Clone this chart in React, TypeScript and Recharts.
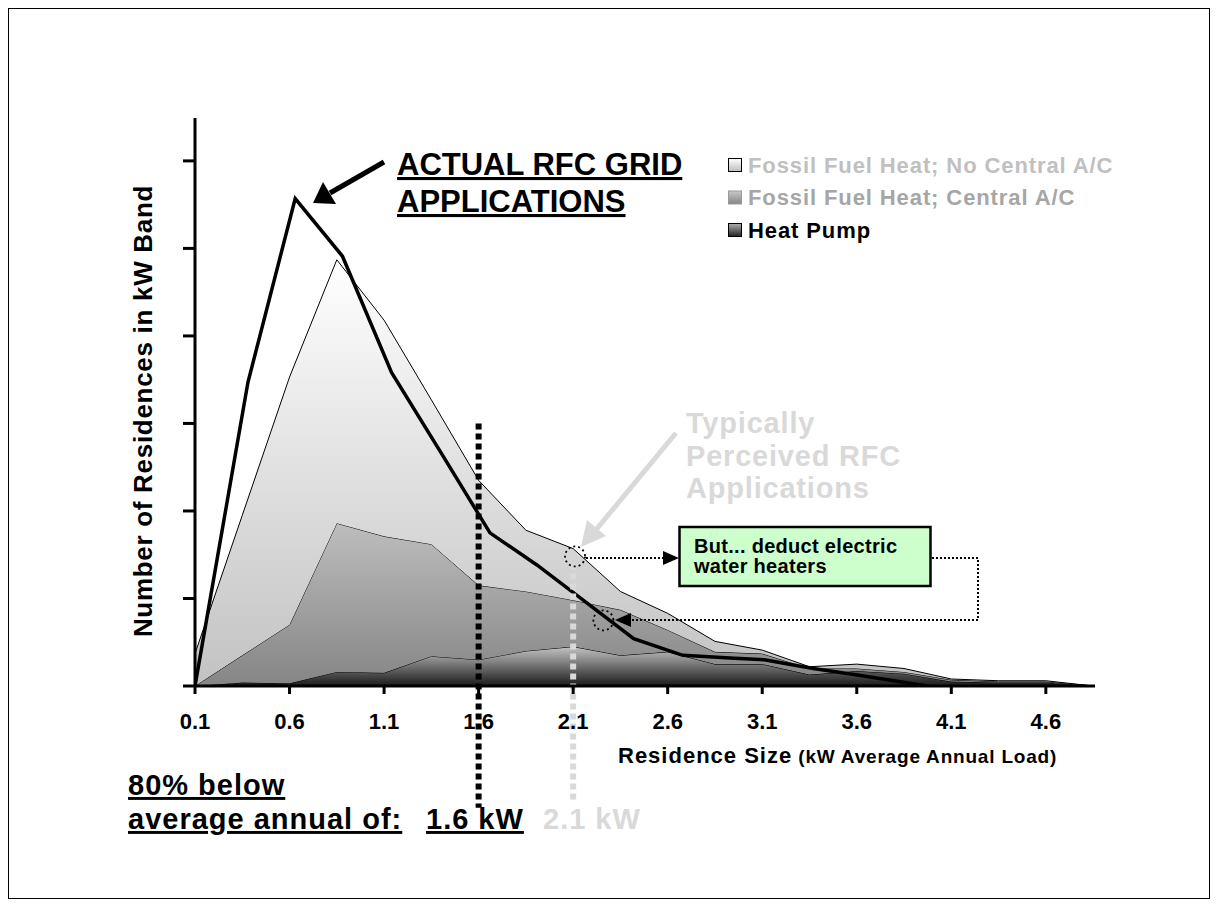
import { ComposedChart, Area, Line, XAxis, YAxis, ReferenceLine, ReferenceDot } from "recharts";

// kW band centres (x) and stacked residence counts per band
const bands = [0.1, 0.35, 0.6, 0.85, 1.1, 1.35, 1.6, 1.85, 2.1, 2.35, 2.6, 2.85, 3.1, 3.35, 3.6, 3.85, 4.1, 4.35, 4.6, 4.85];
const heatPump = [0, 0.04, 0.03, 0.16, 0.15, 0.34, 0.3, 0.4, 0.45, 0.35, 0.39, 0.25, 0.25, 0.13, 0.17, 0.14, 0.05, 0.04, 0.04, 0];
const fossilCentralAC = [0, 0.31, 0.67, 1.7, 1.56, 1.28, 0.85, 0.68, 0.53, 0.52, 0.25, 0.14, 0.12, 0.07, 0.03, 0.02, 0.02, 0.01, 0.01, 0];
const fossilNoCentralAC = [0.37, 1.6, 2.83, 3.01, 2.47, 1.65, 1.2, 0.7, 0.59, 0.21, 0.19, 0.12, 0.04, 0.02, 0.05, 0.04, 0.01, 0.01, 0.01, 0];

// actual RFC grid applications (own x positions)
const rfcX = [0.1, 0.38, 0.63, 0.88, 1.14, 1.4, 1.66, 1.91, 2.16, 2.42, 2.68, 2.93, 3.11, 3.37, 3.62, 3.97];
const rfcY = [0, 3.47, 5.57, 4.91, 3.58, 2.67, 1.75, 1.38, 0.97, 0.54, 0.35, 0.32, 0.3, 0.2, 0.12, 0];

const xTicks = [0.1, 0.6, 1.1, 1.6, 2.1, 2.6, 3.1, 3.6, 4.1, 4.6];
const yTicks = [0, 1, 2, 3, 4, 5, 6];

const legendItems = [
  { label: "Fossil Fuel Heat; No Central A/C", color: "#c0c0c0", fill: "url(#lgNoAC)", border: "#000" },
  { label: "Fossil Fuel Heat; Central A/C", color: "#a6a6a6", fill: "url(#lgAC)", border: "#9a9a9a" },
  { label: "Heat Pump", color: "#000", fill: "url(#lgHP)", border: "#000" },
];

const chartData = bands.map((x, i) => ({
  x,
  hp: heatPump[i],
  ac: fossilCentralAC[i],
  noac: fossilNoCentralAC[i],
}));
const rfcData = rfcX.map((x, i) => ({ x, rfc: rfcY[i] }));

const FONT = '"Liberation Sans", Arial, sans-serif';
const LIGHT = "#d9d9d9";

const XTick = ({ x, y, payload }: any) => (
  <text x={x} y={y + 33} textAnchor="middle" fontFamily={FONT} fontWeight="bold" fontSize={22} fill="#000">
    {payload.value.toFixed(1)}
  </text>
);

const NoTick = () => <g />;

export default function App() {
  return (
    <div style={{ position: "relative", width: 1202, height: 891 }}>
      <div style={{ position: "absolute", left: -8, top: -8 }}>
        <ComposedChart
          width={1218}
          height={907}
          data={chartData}
          margin={{ top: 118, right: 123, bottom: 161, left: 165 }}
        >
          <defs>
            <linearGradient id="gNoAC" x1="0" y1="0" x2="0" y2="1">
              <stop offset="0%" stopColor="#ffffff" />
              <stop offset="100%" stopColor="#c2c2c2" />
            </linearGradient>
            <linearGradient id="gAC" x1="0" y1="0" x2="0" y2="1">
              <stop offset="0%" stopColor="#bdbdbd" />
              <stop offset="100%" stopColor="#858585" />
            </linearGradient>
            <linearGradient id="gHP" x1="0" y1="0" x2="0" y2="1">
              <stop offset="0%" stopColor="#c4c4c4" />
              <stop offset="100%" stopColor="#1a1a1a" />
            </linearGradient>
          </defs>
          <XAxis
            type="number"
            dataKey="x"
            domain={[0.1, 4.86]}
            ticks={xTicks}
            interval={0}
            allowDataOverflow
            height={60}
            tickSize={8}
            tick={<XTick />}
            axisLine={{ stroke: "#000", strokeWidth: 3 }}
            tickLine={{ stroke: "#000", strokeWidth: 3 }}
          />
          <YAxis
            type="number"
            domain={[0, 6.49]}
            ticks={yTicks}
            allowDataOverflow
            width={30}
            tickSize={12}
            tick={NoTick}
            axisLine={{ stroke: "#000", strokeWidth: 3 }}
            tickLine={{ stroke: "#000", strokeWidth: 3 }}
          />
          <Area type="linear" dataKey="hp" stackId="s" stroke="#000" strokeWidth={1} fill="url(#gHP)" fillOpacity={1} isAnimationActive={false} />
          <Area type="linear" dataKey="ac" stackId="s" stroke="#000" strokeWidth={1} fill="url(#gAC)" fillOpacity={1} isAnimationActive={false} />
          <Area type="linear" dataKey="noac" stackId="s" stroke="#000" strokeWidth={1} fill="url(#gNoAC)" fillOpacity={1} isAnimationActive={false} />
          <Line data={rfcData} type="linear" dataKey="rfc" stroke="#000" strokeWidth={3.5} dot={false} isAnimationActive={false} />
          <ReferenceLine
            segment={[{ x: 1.6, y: 3.0 }, { x: 1.6, y: -1.39 }]}
            stroke="#000"
            strokeWidth={6}
            strokeDasharray="6 4"
            ifOverflow="visible"
          />
          <ReferenceLine
            segment={[{ x: 2.1, y: 1.4 }, { x: 2.1, y: -1.33 }]}
            stroke={LIGHT}
            strokeWidth={6}
            strokeDasharray="6 4"
            ifOverflow="visible"
          />
          <ReferenceDot x={2.11} y={1.48} r={10} fill="none" stroke="#000" strokeWidth={1.8} strokeDasharray="2 3" ifOverflow="visible" />
          <ReferenceDot x={2.26} y={0.75} r={10} fill="none" stroke="#000" strokeWidth={1.8} strokeDasharray="2 3" ifOverflow="visible" />
        </ComposedChart>
      </div>

      <svg
        width={1218}
        height={907}
        style={{ position: "absolute", left: -8, top: -8, pointerEvents: "none" }}
        fontFamily={FONT}
        fontWeight="bold"
      >
        <defs>
          <linearGradient id="lgNoAC" x1="0" y1="0" x2="0" y2="1">
            <stop offset="0%" stopColor="#ffffff" />
            <stop offset="100%" stopColor="#bdbdbd" />
          </linearGradient>
          <linearGradient id="lgAC" x1="0" y1="0" x2="0" y2="1">
            <stop offset="0%" stopColor="#c8c8c8" />
            <stop offset="100%" stopColor="#868686" />
          </linearGradient>
          <linearGradient id="lgHP" x1="0" y1="0" x2="0" y2="1">
            <stop offset="0%" stopColor="#b0b0b0" />
            <stop offset="100%" stopColor="#202020" />
          </linearGradient>
        </defs>

        {/* frame */}
        <rect x={8} y={8} width={1202} height={891} fill="none" stroke="#000" strokeWidth={2} />

        {/* legend */}
        {legendItems.map((item, i) => (
          <g key={item.label}>
            <rect x={728.5} y={158.5 + i * 32.5} width={13} height={13} fill={item.fill} stroke={item.border} strokeWidth={1} />
            <text x={748} y={172.5 + i * 32.5} fontSize={22} letterSpacing={0.9} fill={item.color}>
              {item.label}
            </text>
          </g>
        ))}

        {/* y axis title */}
        <text
          x={0}
          y={0}
          transform="translate(152 411) rotate(-90)"
          textAnchor="middle"
          fontSize={26}
          letterSpacing={0.7}
          fill="#000"
        >
          Number of Residences in kW Band
        </text>

        {/* x axis title */}
        <text x={618} y={763} fill="#000">
          <tspan fontSize={22} letterSpacing={1}>Residence Size</tspan>
          <tspan fontSize={19} letterSpacing={0.8}> (kW Average Annual Load)</tspan>
        </text>

        {/* actual RFC annotation */}
        <text fontSize={31} fill="#000" style={{ textDecoration: "underline" }}>
          <tspan x={397} y={175}>ACTUAL RFC GRID</tspan>
          <tspan x={397} y={212}>APPLICATIONS</tspan>
        </text>
        <line x1={384} y1={162} x2={330} y2={193} stroke="#000" strokeWidth={5} />
        <polygon points="313,203 323,182 336,204" fill="#000" />

        {/* typically perceived annotation */}
        <text fontSize={29} letterSpacing={0.8} fill={LIGHT}>
          <tspan x={686} y={433}>Typically</tspan>
          <tspan x={686} y={466}>Perceived RFC</tspan>
          <tspan x={686} y={498}>Applications</tspan>
        </text>
        <line x1={676} y1={433} x2={595} y2={531} stroke={LIGHT} strokeWidth={5} />
        <polygon points="581,547 587,520 606,536" fill={LIGHT} />

        {/* water heater note */}
        <line x1={586} y1={558} x2={664} y2={558} stroke="#000" strokeWidth={2} strokeDasharray="2 2" />
        <polygon points="679,558 663,551 663,565" fill="#000" />
        <rect x={679.5} y={527} width={251} height={59} fill="#ccffcc" stroke="#000" strokeWidth={2.5} />
        <text fontSize={20} letterSpacing={0.3} fill="#000">
          <tspan x={694} y={553}>But... deduct electric</tspan>
          <tspan x={694} y={573}>water heaters</tspan>
        </text>
        <polyline points="932,558 978,558 978,620 631,620" fill="none" stroke="#000" strokeWidth={2} strokeDasharray="2 2" />
        <polygon points="615,620 631,613 631,627" fill="#000" />

        {/* bottom notes */}
        <text fontSize={29} letterSpacing={1} fill="#000" style={{ textDecoration: "underline" }}>
          <tspan x={128} y={795}>80% below</tspan>
          <tspan x={128} y={829}>average annual of:</tspan>
        </text>
        <text x={426} y={829} fontSize={29} letterSpacing={1} fill="#000" style={{ textDecoration: "underline" }}>
          1.6 kW
        </text>
        <text x={543} y={829} fontSize={29} letterSpacing={1} fill={LIGHT}>
          2.1 kW
        </text>
      </svg>
    </div>
  );
}
